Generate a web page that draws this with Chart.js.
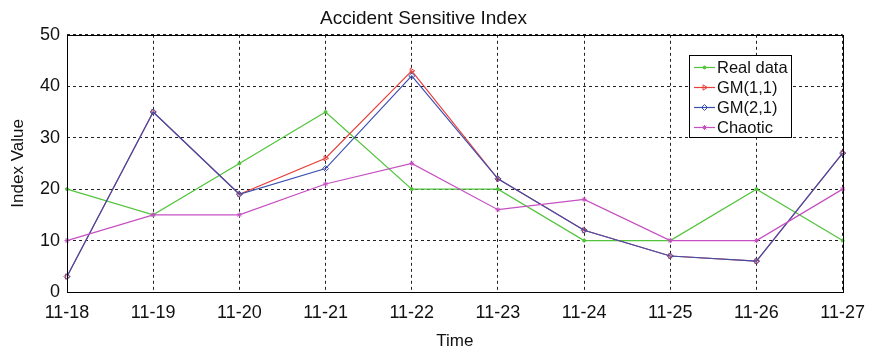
<!DOCTYPE html>
<html>
<head>
<meta charset="utf-8">
<script src="https://cdn.jsdelivr.net/npm/chart.js@4"></script>
<style>
  html, body { margin: 0; padding: 0; background: #fff; }
  #wrap { width: 875px; height: 352px; }
</style>
</head>
<body>
<div id="wrap"><canvas id="accidentChart"></canvas></div>
<script>
// data
const days = ['11-18', '11-19', '11-20', '11-21', '11-22', '11-23', '11-24', '11-25', '11-26', '11-27'];
const realData = [20, 15, 25, 35, 20, 20, 10, 10, 20, 10];
const gm11 = [3, 35, 19, 26, 43, 22, 12, 7, 6, 27];
const gm21 = [3, 35, 19, 24, 42, 22, 12, 7, 6, 27];
const chaotic = [10, 15, 15, 21, 25, 16, 18, 10, 10, 20];
const yTicks = [0, 10, 20, 30, 40, 50];

const FONT = '"Liberation Sans", Arial, sans-serif';

// box around the plot + legend inside the plot (like matlab)
const boxAndLegend = {
  id: 'boxAndLegend',
  afterDatasetsDraw(chart) {
    const ctx = chart.ctx;
    const a = chart.chartArea;
    ctx.save();
    ctx.strokeStyle = '#000';
    ctx.lineWidth = 1;
    ctx.setLineDash([]);
    ctx.strokeRect(Math.round(a.left) + 0.5, Math.round(a.top) + 0.5,
      Math.round(a.right - a.left), Math.round(a.bottom - a.top));

    // legend
    const lx = 689, ly = 55, lw = 102, lh = 82;
    ctx.fillStyle = '#fff';
    ctx.fillRect(lx, ly, lw, lh);
    ctx.strokeRect(lx + 0.5, ly + 0.5, lw, lh);
    ctx.textBaseline = 'middle';
    chart.data.datasets.forEach((ds, i) => {
      const y = ly + 12 + i * 20;
      ctx.strokeStyle = ds.borderColor;
      ctx.lineWidth = 1.2;
      ctx.beginPath();
      ctx.moveTo(lx + 5, y + 0.5);
      ctx.lineTo(lx + 26, y + 0.5);
      ctx.stroke();
      ctx.fillStyle = ds.backgroundColor;
      ctx.lineWidth = 1;
      Chart.helpers.drawPoint(ctx, {
        pointStyle: ds.pointStyle, radius: ds.pointRadius,
        rotation: ds.pointRotation || 0, borderWidth: 1
      }, lx + 15.5, y + 0.5);
      ctx.fillStyle = '#111';
      ctx.font = '16.5px ' + FONT;
      ctx.fillText(ds.label, lx + 28, y + 1);
    });
    ctx.restore();
  }
};

const config = {
  type: 'line',
  data: {
    labels: days,
    datasets: [
      { label: 'Real data', data: realData, borderColor: '#52c43c', backgroundColor: '#52c43c',
        pointStyle: 'circle', pointRadius: 1.5, order: 4 },
      { label: 'GM(1,1)', data: gm11, borderColor: '#e8403a', backgroundColor: 'rgba(0,0,0,0)',
        pointStyle: 'triangle', pointRotation: 90, pointRadius: 3, order: 3 },
      { label: 'GM(2,1)', data: gm21, borderColor: '#3b4fb0', backgroundColor: 'rgba(0,0,0,0)',
        pointStyle: 'rectRot', pointRadius: 3, order: 2 },
      { label: 'Chaotic', data: chaotic, borderColor: '#c64fc2', backgroundColor: '#c64fc2',
        pointStyle: 'star', pointRadius: 2.5, order: 1 }
    ]
  },
  options: {
    responsive: true,
    maintainAspectRatio: false,
    animation: false,
    elements: {
      line: { borderWidth: 1.2, tension: 0 },
      point: { borderWidth: 1, hoverRadius: 3 }
    },
    layout: { padding: { left: 0, right: 28, top: 0, bottom: 0 } },
    plugins: {
      legend: { display: false },
      tooltip: { enabled: false },
      title: {
        display: true,
        text: 'Accident Sensitive Index',
        color: '#111',
        font: { family: FONT, size: 19, weight: 'normal' },
        padding: { top: 7, bottom: 5 }
      }
    },
    scales: {
      x: {
        offset: false,
        grid: { color: '#222', drawTicks: false, lineWidth: 1 },
        border: { display: false, dash: [3, 3] },
        ticks: { color: '#111', font: { family: FONT, size: 18 }, padding: 10, maxRotation: 0, autoSkip: false },
        title: { display: true, text: 'Time', color: '#111', font: { family: FONT, size: 17 }, padding: { top: 6, bottom: 0 } },
        afterFit: s => { s.height = 60; }
      },
      y: {
        min: 0,
        max: 50,
        afterBuildTicks: s => { s.ticks = yTicks.map(v => ({ value: v })); },
        grid: { color: '#222', drawTicks: false, lineWidth: 1 },
        border: { display: false, dash: [3, 3] },
        ticks: { color: '#111', font: { family: FONT, size: 18 }, padding: 7 },
        title: { display: true, text: 'Index Value', color: '#111', font: { family: FONT, size: 17 }, padding: { top: 8, bottom: 0 } },
        afterFit: s => { s.width = 67; }
      }
    }
  },
  plugins: [boxAndLegend]
};

new Chart(document.getElementById('accidentChart'), config);
</script>
</body>
</html>
